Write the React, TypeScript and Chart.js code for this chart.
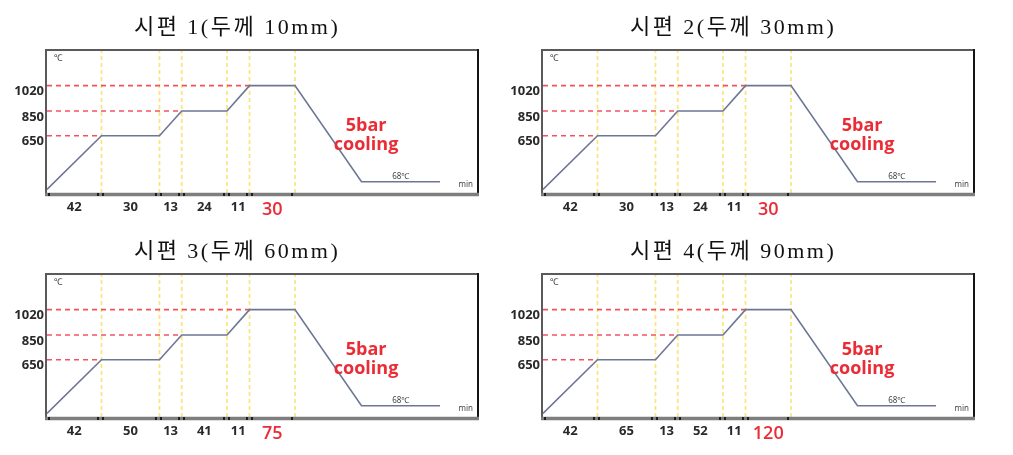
import React, { useEffect, useRef } from 'react';
import { Chart, registerables, LinearScale } from 'chart.js';

Chart.register(...registerables);

// ---------------- data ----------------
const panelTitles = ['시편 1(두께 10mm)', '시편 2(두께 30mm)', '시편 3(두께 60mm)', '시편 4(두께 90mm)'];
// temperature (℃) at each stage boundary of the heat-treatment profile
const stageTemps = [25, 650, 650, 850, 850, 1020, 1020, 68, 68];
const tempTicks = [650, 850, 1020];
// durations (min) of the labelled stages for each specimen
const durations1 = [42, 30, 13, 24, 11, 30];
const durations2 = [42, 30, 13, 24, 11, 30];
const durations3 = [42, 50, 13, 41, 11, 75];
const durations4 = [42, 65, 13, 52, 11, 120];
const allDurations = [durations1, durations2, durations3, durations4];
const coolingLines = ['5bar', 'cooling'];
const finalTempLabel = '68℃';
const xUnit = 'min';
const yUnit = '℃';

// ---------------- schematic (non-proportional) axes ----------------
// value -> fraction of the axis length, as in the original schematic drawing
const X_KNOTS: number[][] = [[0, 0], [1, 0.1267], [2, 0.2616], [3, 0.3133], [4, 0.4186], [5, 0.471], [6, 0.5767], [7, 0.7314], [8, 0.914], [9, 1]];
const Y_KNOTS: number[][] = [[0, 0], [25, 0.025], [68, 0.0796], [650, 0.4035], [850, 0.577], [1020, 0.756], [1300, 1]];

function interp(knots: number[][], v: number) {
  for (let i = 1; i < knots.length; i++) {
    const [v0, f0] = knots[i - 1];
    const [v1, f1] = knots[i];
    if (v <= v1 || i === knots.length - 1) return f0 + ((v - v0) * (f1 - f0)) / (v1 - v0);
  }
  return 0;
}
function invert(knots: number[][], f: number) {
  for (let i = 1; i < knots.length; i++) {
    const [v0, f0] = knots[i - 1];
    const [v1, f1] = knots[i];
    if (f <= f1 || i === knots.length - 1) return v0 + ((f - f0) * (v1 - v0)) / (f1 - f0);
  }
  return 0;
}

class SchematicX extends LinearScale {
  static id = 'schematicX';
  getPixelForValue(value: any) {
    return value === null || value === undefined ? NaN : this.getPixelForDecimal(interp(X_KNOTS, value));
  }
  getValueForPixel(pixel: number) {
    return invert(X_KNOTS, this.getDecimalForPixel(pixel));
  }
}
class SchematicY extends LinearScale {
  static id = 'schematicY';
  getPixelForValue(value: any) {
    return value === null || value === undefined ? NaN : this.getPixelForDecimal(interp(Y_KNOTS, value));
  }
  getValueForPixel(pixel: number) {
    return invert(Y_KNOTS, this.getDecimalForPixel(pixel));
  }
}
Chart.register(SchematicX as any, SchematicY as any);

// ---------------- styles ----------------
const RED = '#ea2c36';
const DARK = '#2a2a2a';
const SANS = '"Open Sans", "Noto Sans", sans-serif';
const PANEL_POS = [
  { left: 0, top: 0 },
  { left: 496, top: 0 },
  { left: 0, top: 224 },
  { left: 496, top: 224 },
];

const decorPlugin = {
  id: 'panelDecor',
  afterDraw(chart: any, _args: any, opts: any) {
    const { ctx, chartArea: a, scales } = chart;
    const xs = scales.x;
    const ys = scales.y;
    const W = a.right - a.left;
    const H = a.bottom - a.top;
    ctx.save();

    // frame
    ctx.lineWidth = 2;
    ctx.strokeStyle = '#5a5a5a';
    ctx.beginPath();
    ctx.moveTo(a.left - 1, a.bottom);
    ctx.lineTo(a.left - 1, a.top - 1);
    ctx.lineTo(a.right + 1, a.top - 1);
    ctx.stroke();
    ctx.strokeStyle = '#151515';
    ctx.beginPath();
    ctx.moveTo(a.right + 1, a.top - 2);
    ctx.lineTo(a.right + 1, a.bottom + 3);
    ctx.stroke();
    // bottom time axis
    ctx.lineWidth = 3.5;
    ctx.strokeStyle = '#7e7e7e';
    ctx.beginPath();
    ctx.moveTo(a.left - 2, a.bottom + 1.5);
    ctx.lineTo(a.right + 2, a.bottom + 1.5);
    ctx.stroke();
    // small stage marks on the time axis
    ctx.fillStyle = '#1e1e1e';
    for (let i = 0; i <= 6; i++) {
      const px = xs.getPixelForValue(i);
      const offs = i === 0 ? [2] : i === 6 ? [-3] : [-3, 2];
      offs.forEach((o) => ctx.fillRect(Math.round(px + o) - 1, a.bottom, 2, 3));
    }

    // title
    ctx.fillStyle = '#111';
    ctx.font = '22px "Liberation Serif", "Noto Sans CJK KR", serif';
    ctx.textAlign = 'center';
    ctx.textBaseline = 'middle';
    try { ctx.letterSpacing = '2.5px'; } catch (e) {}
    ctx.fillText(opts.title, a.left + 0.442 * W, a.top - 23);
    try { ctx.letterSpacing = '0px'; } catch (e) {}

    // unit labels
    ctx.fillStyle = '#444';
    ctx.font = '9px "Noto Sans", sans-serif';
    ctx.textAlign = 'left';
    ctx.fillText(yUnit, a.left + 7, a.top + 7);
    ctx.font = '8px "Noto Sans", sans-serif';
    ctx.textAlign = 'right';
    ctx.fillText(xUnit, a.right - 4, a.bottom - 8);
    ctx.textAlign = 'center';
    ctx.fillText(finalTempLabel, xs.getPixelForValue(7.5), ys.getPixelForValue(stageTemps[7]) - 5);

    // cooling note
    ctx.fillStyle = RED;
    ctx.font = 'bold 18px ' + SANS;
    ctx.textAlign = 'center';
    ctx.textBaseline = 'alphabetic';
    ctx.fillText(coolingLines[0], a.left + 0.742 * W, a.top + 0.561 * H);
    ctx.fillText(coolingLines[1], a.left + 0.742 * W, a.top + 0.694 * H);
    ctx.restore();
  },
};

function buildConfig(title: string, durations: number[]) {
  const last = durations.length - 1;
  const datasets: any[] = [];
  datasets.push({
    data: stageTemps.map((t, i) => ({ x: i, y: t })),
    borderColor: '#6e7697',
    borderWidth: 1.6,
    pointRadius: 0,
    tension: 0,
    order: 0,
  });
  tempTicks.forEach((t) => {
    const idx = stageTemps.indexOf(t);
    datasets.push({
      data: [{ x: 0, y: t }, { x: idx, y: t }],
      borderColor: 'rgba(238, 52, 72, 0.85)',
      borderWidth: 1.6,
      borderDash: [5, 4],
      pointRadius: 0,
      order: 1,
    });
  });
  for (let i = 1; i <= 6; i++) {
    datasets.push({
      data: [{ x: i, y: 0 }, { x: i, y: 1300 }],
      borderColor: 'rgba(246, 216, 70, 0.7)',
      borderWidth: 1.7,
      borderDash: [4, 3],
      pointRadius: 0,
      order: 2,
    });
  }
  return {
    type: 'line',
    data: { datasets },
    options: {
      animation: false,
      responsive: false,
      events: [],
      layout: { padding: { left: 0, top: 51, right: 23, bottom: 0 } },
      plugins: {
        legend: { display: false },
        title: { display: false },
        tooltip: { enabled: false },
        panelDecor: { title },
      },
      scales: {
        x: {
          type: 'schematicX',
          min: 0,
          max: 9,
          grid: { display: false, drawTicks: false },
          border: { display: false },
          afterFit: (s: any) => { s.height = 35; },
          afterBuildTicks: (s: any) => { s.ticks = durations.map((_, i) => ({ value: i + 0.5 })); },
          ticks: {
            autoSkip: false,
            maxRotation: 0,
            padding: 6,
            callback: (_v: any, i: number) => String(durations[i]),
            color: (c: any) => (c.index === last ? RED : DARK),
            font: (c: any) => (c.index === last ? { family: SANS, size: 18, weight: '600' } : { family: SANS, size: 13, weight: 'bold' }),
          },
        },
        y: {
          type: 'schematicY',
          min: 0,
          max: 1300,
          grid: { display: false, drawTicks: false },
          border: { display: false },
          afterFit: (s: any) => { s.width = 47; },
          afterBuildTicks: (s: any) => { s.ticks = tempTicks.map((v) => ({ value: v })); },
          ticks: {
            padding: 3,
            labelOffset: 6,
            callback: (v: any) => String(v),
            color: DARK,
            font: { family: SANS, size: 13, weight: 'bold' },
          },
        },
      },
    },
    plugins: [decorPlugin],
  };
}

function ProfileChart({ title, durations }: { title: string; durations: number[] }) {
  const ref = useRef<HTMLCanvasElement | null>(null);
  useEffect(() => {
    const chart = new Chart(ref.current as HTMLCanvasElement, buildConfig(title, durations) as any);
    return () => chart.destroy();
  }, [title, durations]);
  return <canvas ref={ref} width={500} height={228} style={{ display: 'block', width: 500, height: 228 }} />;
}

export default function App() {
  return (
    <div style={{ position: 'absolute', left: 0, top: 0, width: 1013, height: 455, background: '#fff', overflow: 'hidden' }}>
      {panelTitles.map((t, i) => (
        <div key={i} style={{ position: 'absolute', left: PANEL_POS[i].left, top: PANEL_POS[i].top, width: 500, height: 228 }}>
          <ProfileChart title={t} durations={allDurations[i]} />
        </div>
      ))}
    </div>
  );
}
